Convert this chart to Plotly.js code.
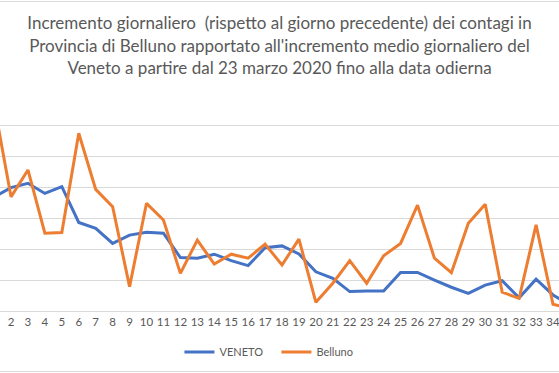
<!DOCTYPE html>
<html>
<head>
<meta charset="utf-8">
<script src="https://cdn.plot.ly/plotly-3.0.1.min.js"></script>
<style>
html,body{margin:0;padding:0;background:#fff;}
#chart{width:559px;height:373px;}
</style>
</head>
<body>
<div id="chart"></div>
<script>
// Day index (days from 23 March 2020)
const days = [1,2,3,4,5,6,7,8,9,10,11,12,13,14,15,16,17,18,19,20,21,22,23,24,25,26,27,28,29,30,31,32,33,34,35];
// Daily increment, in gridline units (axis labels not visible in the reference)
const veneto = [3.69,4.00,4.14,3.81,4.03,2.87,2.68,2.19,2.46,2.55,2.52,1.73,1.71,1.84,1.63,1.47,2.05,2.11,1.85,1.27,1.06,0.63,0.65,0.65,1.25,1.25,1.00,0.77,0.57,0.84,0.98,0.43,1.03,0.52,0.20];
const belluno = [6.71,3.70,4.57,2.52,2.54,5.76,3.94,3.38,0.79,3.49,2.95,1.22,2.30,1.52,1.84,1.71,2.17,1.49,2.33,0.28,0.90,1.63,0.90,1.79,2.19,3.43,1.71,1.24,2.84,3.46,0.61,0.41,2.79,0.22,0.08];
const seriesNames = ['VENETO','Belluno'];
const titleText = "Incremento giornaliero  (rispetto al giorno precedente) dei contagi in<br>Provincia di Belluno rapportato all'incremento medio giornaliero del<br>Veneto a partire dal 23 marzo 2020 fino alla data odierna";

const gray = '#595959';
const traces = [
  {x: days, y: veneto, name: seriesNames[0], type: 'scatter', mode: 'lines',
   line: {color: '#4472c4', width: 3}},
  {x: days, y: belluno, name: seriesNames[1], type: 'scatter', mode: 'lines',
   line: {color: '#ed7d31', width: 3}}
];

const layout = {
  width: 559, height: 373,
  margin: {l: 0, r: 0, t: 95, b: 62},
  paper_bgcolor: '#fff', plot_bgcolor: '#fff',
  font: {family: 'Lato, "Open Sans", sans-serif', color: gray},
  title: {text: titleText, font: {size: 17, color: gray, family: 'Lato, sans-serif'},
          x: 0.5, xanchor: 'center', y: 0.921, yanchor: 'top'},
  xaxis: {range: [1.35, 34.354], tickmode: 'linear', tick0: 1, dtick: 1,
          showgrid: false, zeroline: false, showline: true, linecolor: '#d9d9d9', linewidth: 1,
          ticks: '', ticklabeloverflow: 'allow',
          tickfont: {size: 11.5, color: gray, family: 'Lato, sans-serif'}},
  yaxis: {range: [0, 7], dtick: 1, showticklabels: false, showgrid: true,
          gridcolor: '#d9d9d9', gridwidth: 1, zeroline: false, showline: false, ticks: ''},
  showlegend: true,
  legend: {orientation: 'h', x: 0.321, xanchor: 'left', y: -0.19, yanchor: 'middle',
           font: {size: 11, color: gray, family: 'Lato, sans-serif'}, itemwidth: 30,
           entrywidth: 52, entrywidthmode: 'pixels'},
  shapes: [
    {type: 'line', xref: 'paper', yref: 'paper', x0: 0, x1: 1, y0: 1.433, y1: 1.433,
     line: {color: '#d9d9d9', width: 1}},
    {type: 'line', xref: 'paper', yref: 'paper', x0: 0, x1: 1, y0: -0.28, y1: -0.28,
     line: {color: '#d9d9d9', width: 1}}
  ]
};

Plotly.newPlot('chart', traces, layout, {displayModeBar: false, staticPlot: true});
</script>
</body>
</html>
